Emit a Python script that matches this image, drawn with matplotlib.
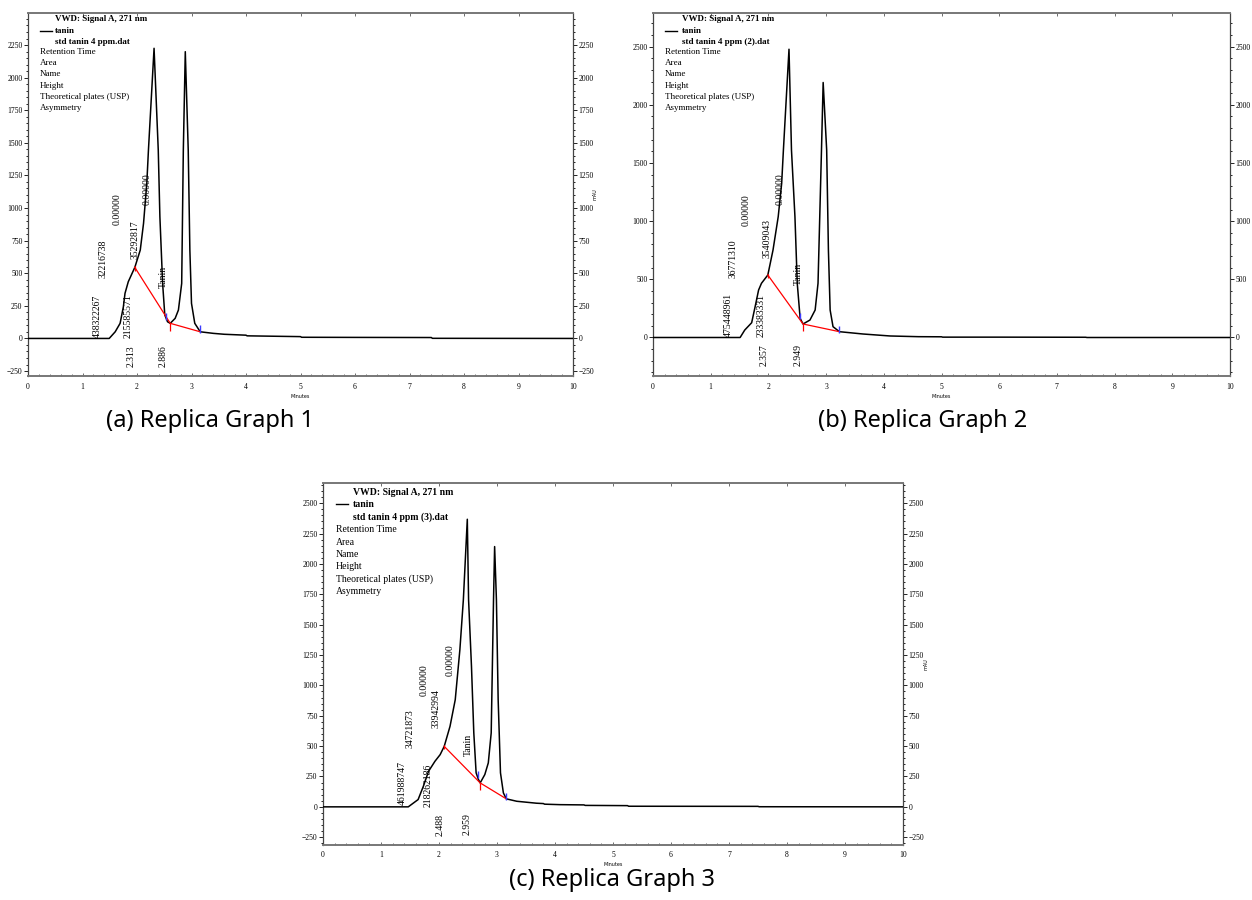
import matplotlib.pyplot as plt
from matplotlib.ticker import MultipleLocator
from matplotlib.lines import Line2D

W, H = 1252, 900
SERIF = 'Liberation Serif'

# ---- Replica 1 ----
t_a = [0, 1.49, 1.60, 1.69, 1.75, 1.78, 1.84, 1.96, 2.06, 2.12, 2.18, 2.21, 2.313,
       2.39, 2.42, 2.47, 2.51, 2.56, 2.61, 2.70, 2.76, 2.82, 2.85, 2.886, 2.94, 2.97,
       3.00, 3.06, 3.16, 3.40, 3.60, 4.00, 4.02, 4.50, 5.00, 5.02, 6.00, 7.40, 7.42, 10]
v_a = [0, 0, 51, 116, 243, 346, 435, 545, 678, 883, 1190, 1445, 2225,
       1445, 933, 422, 180, 128, 116, 154, 218, 422, 1445, 2199, 1445, 678,
       269, 116, 51, 39, 32, 25, 20, 17, 14, 9, 8, 7, 1, 0]
base_a_t = [1.96, 2.61, 3.16]
base_a_v = [545, 116, 51]
mark_a_t = [2.54, 3.15]
mark_a_v = [150, 55]
lab_a = ['438322267', '32216738', '0.00000', '215585571', '35292817', '0.00000', 'Tanin']
lab_a_t = [1.27, 1.38, 1.63, 1.83, 1.96, 2.18, 2.48]
lab_a_v = [0, 460, 867, 0, 613, 1020, 390]
rt_a = ['2.313', '2.886']
rt_a_t = [1.89, 2.48]

# ---- Replica 2 ----
t_b = [0, 1.51, 1.59, 1.71, 1.77, 1.83, 1.88, 1.99, 2.08, 2.17, 2.23, 2.26, 2.357,
       2.40, 2.46, 2.50, 2.55, 2.60, 2.72, 2.81, 2.86, 2.92, 2.949, 3.01, 3.04, 3.07,
       3.12, 3.23, 3.64, 4.11, 4.60, 5.00, 5.02, 6.00, 7.50, 7.52, 10]
v_b = [0, 0, 64, 127, 265, 408, 466, 537, 752, 1038, 1325, 1611, 2478,
       1611, 1038, 466, 165, 116, 150, 236, 466, 1611, 2192, 1611, 752, 236,
       93, 50, 30, 13, 7, 6, 3, 3, 2, 0, 0]
base_b_t = [1.99, 2.60, 3.23]
base_b_v = [537, 116, 50]
mark_b_t = [2.55, 3.23]
mark_b_v = [165, 50]
lab_b = ['475448961', '36771310', '0.00000', '233383331', '35409043', '0.00000', 'Tanin']
lab_b_t = [1.31, 1.39, 1.62, 1.88, 1.98, 2.20, 2.52]
lab_b_v = [0, 509, 958, 0, 680, 1138, 451]
rt_b = ['2.357', '2.949']
rt_b_t = [1.92, 2.52]

# ---- Replica 3 ----
t_c = [0, 1.47, 1.64, 1.73, 1.82, 1.93, 2.02, 2.09, 2.19, 2.28, 2.36, 2.42, 2.488,
       2.51, 2.56, 2.60, 2.64, 2.68, 2.71, 2.79, 2.85, 2.90, 2.94, 2.959, 2.99, 3.02,
       3.06, 3.11, 3.16, 3.34, 3.68, 3.80, 3.82, 4.09, 4.50, 4.52, 5.25, 5.27, 7.50, 7.52, 10]
v_c = [0, 0, 60, 169, 293, 375, 430, 498, 663, 882, 1294, 1705, 2368,
       1705, 1156, 609, 280, 225, 197, 266, 362, 609, 1705, 2143, 1705, 882,
       280, 115, 66, 46, 30, 27, 22, 18, 16, 12, 10, 5, 4, 1, 0]
base_c_t = [2.09, 2.71, 3.16]
base_c_v = [498, 197, 66]
mark_c_t = [2.67, 3.16]
mark_c_v = [250, 66]
lab_c = ['461988747', '34721873', '0.00000', '218262186', '33942994', '0.00000', 'Tanin']
lab_c_t = [1.36, 1.50, 1.74, 1.82, 1.95, 2.20, 2.51]
lab_c_v = [15, 485, 909, 0, 650, 1080, 416]
rt_c = ['2.488', '2.959']
rt_c_t = [2.02, 2.49]

legend_rows = ['Retention Time', 'Area', 'Name', 'Height', 'Theoretical plates (USP)', 'Asymmetry']

fig = plt.figure(figsize=(W / 100, H / 100), dpi=100)


def make_axes(left, top, right, bottom):
    return fig.add_axes([left / W, 1 - bottom / H, (right - left) / W, (bottom - top) / H])


def draw_panel(ax, t, v, bt, bv, mt, mv, labs, lt, lv, rts, rtt, ylim, major, minor,
               fname, box, leg, unit=True):
    ax.plot(t, v, color='black', lw=1.1, zorder=3)
    ax.plot(bt, bv, color='red', lw=0.9, zorder=4)
    ax.vlines(bt[1], bv[1] - 60, bv[1], color='red', lw=0.9, zorder=4)
    ax.vlines(bt[0], bv[0] - 25, bv[0] + 10, color='red', lw=0.9, zorder=4)
    ax.vlines(mt, [x - 10 for x in mv], [x + 45 for x in mv], color='#3b3bff', lw=1.0, zorder=5)
    for s, x, y in zip(labs, lt, lv):
        ax.text(x, y, s, rotation=90, ha='center', va='bottom', fontsize=7,
                family=SERIF, zorder=2)
    for s, x in zip(rts, rtt):
        ax.text(x, -55, s, rotation=90, ha='center', va='top', fontsize=7,
                family=SERIF, zorder=2)
    ax.set_xlim(0, 10)
    ax.set_ylim(*ylim)
    ax.xaxis.set_major_locator(MultipleLocator(1))
    ax.xaxis.set_minor_locator(MultipleLocator(0.2))
    ax.yaxis.set_major_locator(MultipleLocator(major))
    ax.yaxis.set_minor_locator(MultipleLocator(minor))
    ax.tick_params(axis='y', which='both', left=True, right=True, labelleft=True,
                   labelright=True, direction='out', labelsize=5.5, pad=1, width=0.6)
    ax.tick_params(axis='y', which='major', length=3)
    ax.tick_params(axis='y', which='minor', length=1.5)
    ax.tick_params(axis='x', which='both', bottom=True, top=True, direction='in',
                   labelsize=5.5, pad=5, width=0.6, colors='#555555', labelcolor='black')
    ax.tick_params(axis='x', which='major', length=2.5)
    ax.tick_params(axis='x', which='minor', length=1.5)
    ax.tick_params(axis='x', which='minor', top=False)
    for lbl in ax.get_xticklabels() + ax.get_yticklabels():
        lbl.set_family(SERIF)
    for side in ['top', 'bottom']:
        ax.spines[side].set_color('#777777')
        ax.spines[side].set_linewidth(1.4)
    for side in ['left', 'right']:
        ax.spines[side].set_color('#444444')
        ax.spines[side].set_linewidth(0.9)
    ax.set_xlabel('Minutes', fontsize=3.5, labelpad=2, family='DejaVu Sans')
    if unit:
        ax.text(1.04, 0.5, 'mAU', transform=ax.transAxes, rotation=90, fontsize=3.5,
                ha='center', va='center', family='DejaVu Sans')

    left, top = box
    bx, by, nx, ny, step, fs = leg
    for i, s in enumerate(['VWD: Signal A, 271 nm', 'tanin', fname]):
        fig.text((left + bx) / W, 1 - (top + by[i]) / H, s, fontsize=fs, weight='bold',
                 family=SERIF, ha='left', va='center')
    fig.add_artist(Line2D([(left + nx) / W, (left + nx + 12) / W],
                          [1 - (top + by[1]) / H] * 2, color='black', lw=1.0))
    for i, s in enumerate(legend_rows):
        fig.text((left + nx) / W, 1 - (top + ny + step * i) / H, s, fontsize=fs,
                 family=SERIF, ha='left', va='center')


ax_a = make_axes(28, 12.7, 573, 376)
draw_panel(ax_a, t_a, v_a, base_a_t, base_a_v, mark_a_t, mark_a_v, lab_a, lab_a_t, lab_a_v,
           rt_a, rt_a_t, (-288, 2498), 250, 50, 'std tanin 4 ppm.dat', (28, 12.7),
           (27, [6.3, 18.3, 29.3], 12, 39.3, 11.2, 6.5))

ax_b = make_axes(653, 12.7, 1230, 376)
draw_panel(ax_b, t_b, v_b, base_b_t, base_b_v, mark_b_t, mark_b_v, lab_b, lab_b_t, lab_b_v,
           rt_b, rt_b_t, (-331, 2792), 500, 100, 'std tanin 4 ppm (2).dat', (653, 12.7),
           (29, [6.3, 18.3, 29.3], 12, 39.3, 11.2, 6.5), unit=False)

ax_c = make_axes(323, 483.3, 903, 844.5)
draw_panel(ax_c, t_c, v_c, base_c_t, base_c_v, mark_c_t, mark_c_v, lab_c, lab_c_t, lab_c_v,
           rt_c, rt_c_t, (-310, 2664), 250, 50, 'std tanin 4 ppm (3).dat', (323, 483.3),
           (30, [9, 21, 33.4], 13, 46.7, 12.2, 7))

captions = ['(a) Replica Graph 1', '(b) Replica Graph 2', '(c) Replica Graph 3']
cap_xy = [(210, 421), (923, 421), (612, 880)]
for s, (x, y) in zip(captions, cap_xy):
    fig.text(x / W, 1 - y / H, s, fontsize=17, family='Noto Sans', ha='center', va='center')

fig.savefig('out.png', dpi=100)
